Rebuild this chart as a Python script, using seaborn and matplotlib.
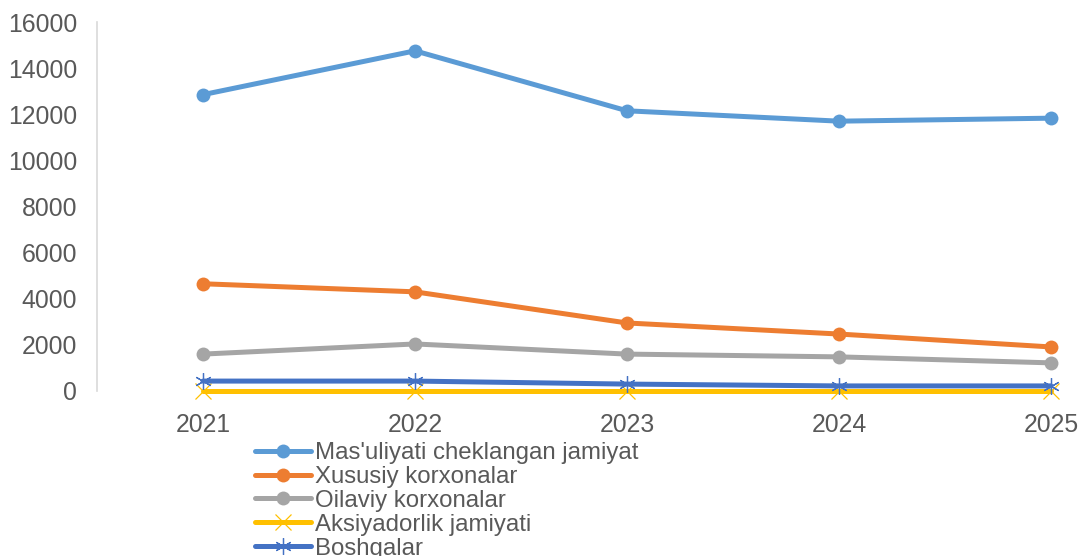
import pandas as pd
import numpy as np
import matplotlib.pyplot as plt
import seaborn as sns

# Data
years = ['2021', '2022', '2023', '2024', '2025']
mchj = [12850, 14750, 12150, 11700, 11830]
xususiy = [4650, 4300, 2950, 2470, 1910]
oilaviy = [1600, 2040, 1600, 1480, 1220]
aksiyadorlik = [20, 20, 20, 20, 20]
boshqalar = [430, 430, 300, 220, 220]

series_names = ["Mas'uliyati cheklangan jamiyat", 'Xususiy korxonalar',
                'Oilaviy korxonalar', 'Aksiyadorlik jamiyati', 'Boshqalar']
series_vals = [mchj, xususiy, oilaviy, aksiyadorlik, boshqalar]
colors = ['#5B9BD5', '#ED7D31', '#A5A5A5', '#FFC000', '#4472C4']
markers = ['o', 'o', 'o', 'x', (6, 2, 0)]

sns.set_style('white')
plt.rcParams['font.family'] = ['Liberation Sans', 'DejaVu Sans']

fig = plt.figure(figsize=(10.81, 5.56), dpi=100)
ax = fig.add_axes([97 / 1081, 165 / 556, (1081 - 97) / 1081, 369 / 556])

x_idx = np.arange(len(years))
for name, vals, c, m in zip(series_names, series_vals, colors, markers):
    df = pd.DataFrame({'x': x_idx, 'y': vals})
    sns.lineplot(data=df, x='x', y='y', ax=ax, color=c, marker=m, label=name,
                 linewidth=3.6, markersize=10 if m == 'o' else 12,
                 markeredgewidth=0.9 if m != 'o' else 0,
                 markeredgecolor=c, legend=False, clip_on=False)

ax.set_xlim(-0.5, (1081 - 203) / 212)
ax.set_ylim(0, 16000)
ax.set_yticks(np.arange(0, 16001, 2000))
ax.set_xticks(x_idx)
ax.set_xticklabels(years)
ax.set_xlabel('')
ax.set_ylabel('')
ax.tick_params(axis='both', length=0, labelsize=17.8, colors='#595959')
ax.tick_params(axis='y', pad=14.2)
ax.tick_params(axis='x', pad=16)
for s in ['top', 'right', 'bottom']:
    ax.spines[s].set_visible(False)
ax.spines['left'].set_color('#D9D9D9')
ax.spines['left'].set_linewidth(1.2)

handles, labels = ax.get_legend_handles_labels()
leg = fig.legend(handles, labels, loc='upper left',
                 bbox_to_anchor=(255 / 1081, 1 - 442 / 556),
                 frameon=False, fontsize=17.3, labelspacing=0.08,
                 handlelength=2.35, handletextpad=0.15, borderpad=0,
                 borderaxespad=0)
for t in leg.get_texts():
    t.set_color('#595959')

fig.savefig('out.png', dpi=100)
